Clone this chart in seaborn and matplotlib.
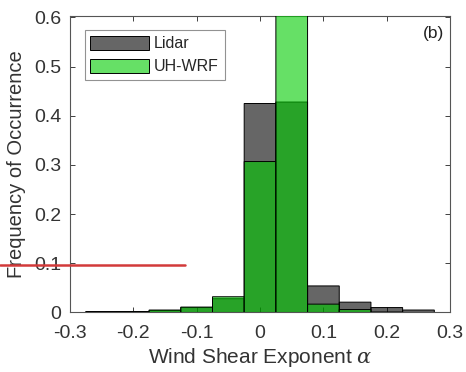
import numpy as np
import pandas as pd
import seaborn as sns
import matplotlib
matplotlib.use("Agg")
import matplotlib.pyplot as plt
from matplotlib.patches import Patch
from matplotlib.lines import Line2D

# ---- data ----
bin_centers = [-0.25, -0.20, -0.15, -0.10, -0.05, 0.00, 0.05, 0.10, 0.15, 0.20, 0.25]
lidar_freq  = [0.002, 0.002, 0.004, 0.010, 0.028, 0.425, 0.428, 0.054, 0.021, 0.010, 0.005]
wrf_freq    = [0.000, 0.001, 0.005, 0.011, 0.032, 0.307, 0.620, 0.017, 0.006, 0.001, 0.000]
series_names = ["Lidar", "UH-WRF"]
x_ticks = [-0.3, -0.2, -0.1, 0, 0.1, 0.2, 0.3]
x_tick_labels = ["-0.3", "-0.2", "-0.1", "0", "0.1", "0.2", "0.3"]
y_ticks = [0, 0.1, 0.2, 0.3, 0.4, 0.5, 0.6]
y_tick_labels = ["0", "0.1", "0.2", "0.3", "0.4", "0.5", "0.6"]

bin_width = 0.05
edges = [round(c - bin_width / 2, 4) for c in bin_centers] + [round(bin_centers[-1] + bin_width / 2, 4)]

df = pd.DataFrame({
    "alpha": bin_centers * 2,
    "freq": lidar_freq + wrf_freq,
    "source": [series_names[0]] * len(bin_centers) + [series_names[1]] * len(bin_centers),
})

sns.set_theme(style="white")
plt.rcParams["font.family"] = ["Liberation Sans", "DejaVu Sans"]
plt.rcParams["mathtext.fontset"] = "dejavuserif"

fig = plt.figure(figsize=(4.66, 3.72), dpi=100)
ax = fig.add_axes([0.150, 0.160, 0.816, 0.797])

face_cols = {series_names[0]: (0, 0, 0, 0.6), series_names[1]: (0, 0.8, 0, 0.6)}
for name in series_names:
    n_before = len(ax.patches)
    sub = df[df["source"] == name]
    sns.histplot(data=sub, x="alpha", weights="freq", bins=edges, stat="count",
                 ax=ax, legend=False)
    for p in ax.patches[n_before:]:
        p.set_alpha(None)
        p.set_facecolor(face_cols[name])
        p.set_edgecolor("black")
        p.set_linewidth(0.7)
        p.set_zorder(3)
        p.set_snap(False)

tick_col = "#404040"
ax.set_xlim(-0.3, 0.3)
ax.set_ylim(0, 0.603)
ax.set_xticks(x_ticks)
ax.set_xticklabels(x_tick_labels)
ax.set_yticks(y_ticks)
ax.set_yticklabels(y_tick_labels)
ax.tick_params(direction="in", length=3.5, width=0.7, colors=tick_col,
               labelsize=14, top=True, right=True, bottom=True, left=True,
               labelcolor="#333333")
ax.tick_params(axis="x", pad=9)
ax.tick_params(axis="y", pad=6)
for s in ax.spines.values():
    s.set_color("#555555")
    s.set_linewidth(0.8)

ax.set_xlabel(r"Wind Shear Exponent $\alpha$", fontsize=15, color="#333333", labelpad=3)
ax.set_ylabel("Frequency of Occurrence", fontsize=14.5, color="#333333")
ax.yaxis.set_label_coords(-0.115, 0.5)

ax.text(0.985, 0.965, "(b)", transform=ax.transAxes, ha="right", va="top",
        fontsize=12.5, color="#222222")

handles = [Patch(facecolor=face_cols[n], edgecolor="black", linewidth=0.7, label=n)
           for n in series_names]
leg = ax.legend(handles=handles, loc="upper left", bbox_to_anchor=(0.039, 0.952),
                fontsize=11.5, frameon=True, fancybox=False, edgecolor="#777777",
                handlelength=3.7, handleheight=1.0, handletextpad=0.3,
                borderpad=0.35, labelspacing=0.45, borderaxespad=0.0)
leg.get_frame().set_linewidth(0.8)
leg.set_zorder(5)

# red marker line present in the reference image
fig.add_artist(Line2D([0, 185 / 466], [1 - 264.5 / 372] * 2, color="#d23a3a", lw=1.8))

fig.savefig("out.png", dpi=100)
